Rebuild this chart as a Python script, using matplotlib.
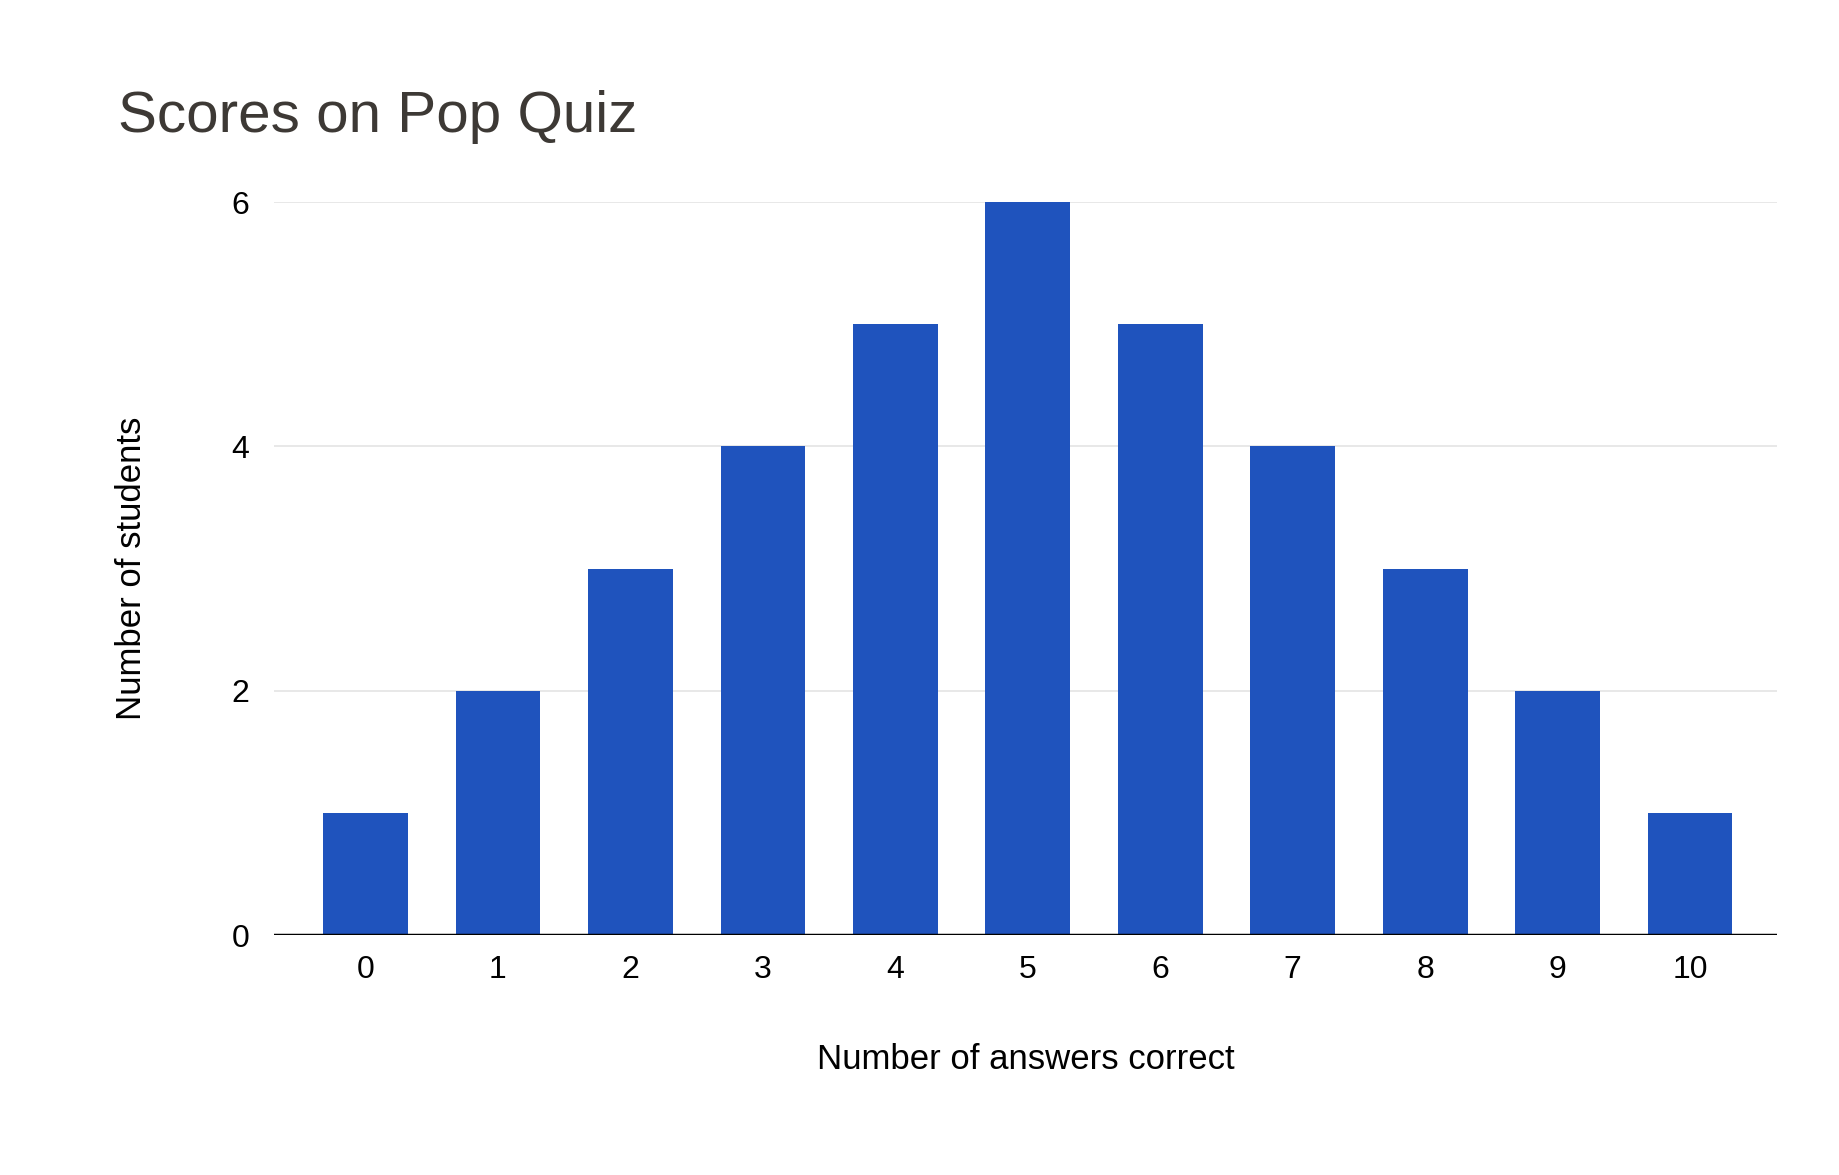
import numpy as np
import matplotlib
matplotlib.use("Agg")
import matplotlib.pyplot as plt

plt.rcParams['font.family'] = ['Liberation Sans', 'DejaVu Sans']

scores = [0, 1, 2, 3, 4, 5, 6, 7, 8, 9, 10]
students = [1, 2, 3, 4, 5, 6, 5, 4, 3, 2, 1]

fig = plt.figure(figsize=(18.4, 11.75), dpi=100)
ax = fig.add_axes([0.149, 0.204, 0.817, 0.624])

ax.bar(scores, students, width=0.64, color="#1f53bd", zorder=2)

ax.set_xlim(-0.69, 10.66)
ax.set_ylim(0, 6)
ax.set_yticks([0, 2, 4, 6])
ax.set_xticks(scores)
ax.set_xticklabels([str(s) for s in scores])

ax.grid(axis='y', color="#e4e4e4", linewidth=1.2, zorder=0)
ax.axhline(0, color="black", linewidth=2.5, zorder=3)
for side in ["top", "right", "left", "bottom"]:
    ax.spines[side].set_visible(False)
ax.tick_params(axis='both', length=0, labelsize=23, colors="black")
ax.tick_params(axis='x', pad=14)
ax.tick_params(axis='y', pad=18)

ax.set_xlabel("Number of answers correct", fontsize=25, labelpad=42)
ax.set_ylabel("Number of students", fontsize=25, labelpad=60)

fig.text(0.064, 0.9, "Scores on Pop Quiz", fontsize=42, color="#3d3935",
         ha="left", va="center")

fig.savefig("out.png", dpi=100, facecolor="white")
